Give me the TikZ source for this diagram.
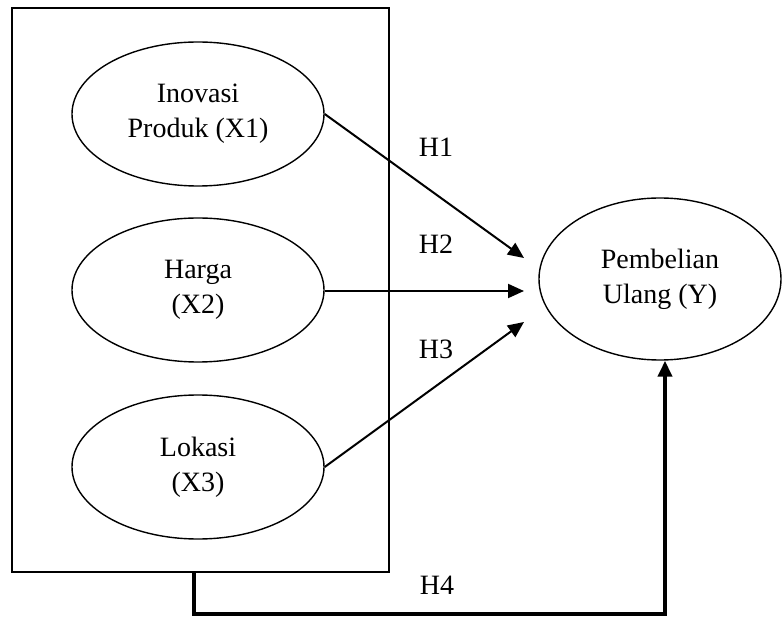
\documentclass[tikz,border=0pt]{standalone}
\usepackage{fontspec}
\setmainfont{Liberation Serif}
\usetikzlibrary{arrows.meta,shapes.geometric}
\tikzset{
  var/.style={draw, line width=1.4pt, ellipse, minimum width=252pt, minimum height=144pt, inner sep=0pt, align=center, font=\fontsize{28}{35}\selectfont},
  conn/.style={line width=2pt, -{Triangle[length=16pt,width=14pt]}},
  bigconn/.style={line width=4.5pt, -{Triangle[length=16pt,width=14pt]}},
  lbl/.style={font=\fontsize{28}{35}\selectfont, inner sep=0pt}
}
\begin{document}
\begin{tikzpicture}[x=1pt,y=-1pt]
\useasboundingbox (0,0) rectangle (782,617);
\node[draw, line width=1.6pt, minimum width=377pt, minimum height=564pt, inner sep=0pt] (box) at (200.5,290) {};
\node[var] (x1) at (198,114) {Inovasi\\Produk (X1)};
\node[var] (x2) at (198,290) {Harga\\(X2)};
\node[var] (x3) at (198,467) {Lokasi\\(X3)};
\node[var, minimum width=242pt, minimum height=162pt] (y) at (660,279) {Pembelian\\Ulang (Y)};
\coordinate (t1) at (524,258);
\coordinate (t2) at (524,291);
\coordinate (t3) at (524,322);
\draw[conn] (x1.east) -- (t1);
\draw[conn] (x2.east |- t2) -- (t2);
\draw[conn] (x3.east) -- (t3);
\coordinate (c1) at (194,614);
\coordinate (c2) at (665,614);
\draw[bigconn] (box.south -| c1) -- (c1) -- (c2) -- (y.south -| c2);
\node[lbl] (h1) at (436,147) {H1};
\node[lbl] (h2) at (436,244) {H2};
\node[lbl] (h3) at (436,349) {H3};
\node[lbl] (h4) at (437,585) {H4};
\end{tikzpicture}
\end{document}
